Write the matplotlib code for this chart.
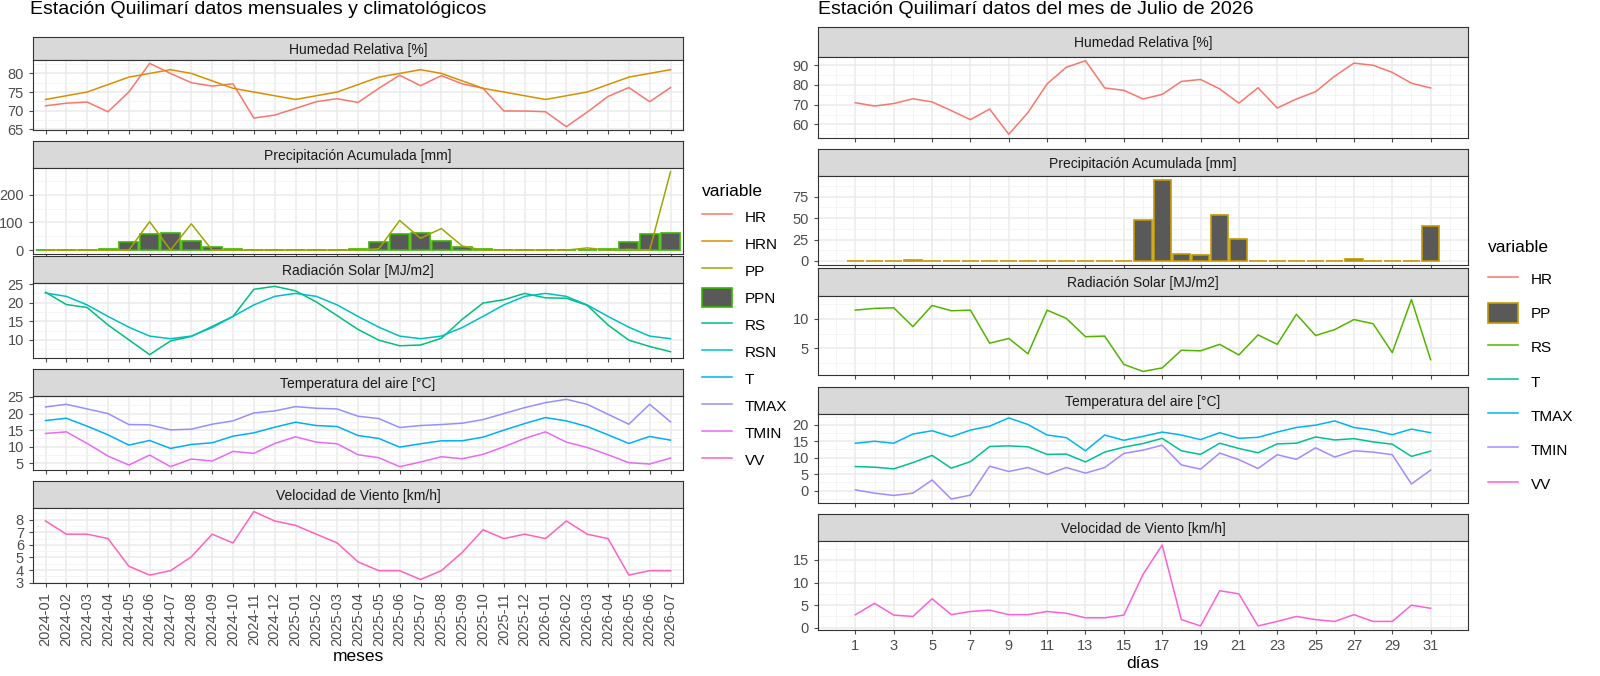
import matplotlib
matplotlib.use('Agg')
import matplotlib.pyplot as plt
from matplotlib.lines import Line2D
from matplotlib.patches import Patch
from matplotlib.ticker import MultipleLocator, AutoMinorLocator

plt.rcParams['font.family'] = ['Liberation Sans', 'DejaVu Sans']

# ---- monthly data (left) ----
meses = ['2024-%02d' % m for m in range(1, 13)] + ['2025-%02d' % m for m in range(1, 13)] + \
        ['2026-%02d' % m for m in range(1, 8)]
HR = [71.3, 72, 72.3, 69.7, 75, 82.7, 80, 77.5, 76.6, 77.2, 68, 68.8, 70.6, 72.4, 73.2, 72.2,
      76, 79.5, 76.7, 79.4, 77.2, 76, 69.9, 69.9, 69.7, 65.7, 69.6, 73.8, 76.2, 72.4, 76.2]
HRN = [73, 74, 75, 77, 79, 80, 81, 80, 78, 76, 75, 74, 73, 74, 75, 77, 79, 80, 81, 80, 78, 76,
       75, 74, 73, 74, 75, 77, 79, 80, 81]
PP = [0, 0, 0, 0, 0, 103, 0, 95, 0, 0, 0, 0, 0, 0, 0, 0, 5, 107, 43, 78, 15, 0, 0, 0, 0, 0, 8,
      0, 3, 0, 283]
PPN = [0, 1, 2, 5, 30, 57, 62, 34, 13, 4, 1, 1, 0, 0, 1, 5, 30, 57, 62, 34, 13, 4, 1, 1, 0, 0,
       2, 5, 30, 57, 62]
RS = [22.8, 19.5, 18.7, 14, 10, 6, 9.7, 10.9, 13.6, 16.3, 23.6, 24.4, 23.2, 20.2, 16.5, 12.8,
      9.9, 8.4, 8.6, 10.4, 15.5, 19.9, 20.8, 22.5, 21.3, 21.2, 19.3, 14, 9.9, 8.2, 6.8]
RSN = [22.6, 21.7, 19.4, 16.3, 13.4, 11, 10.3, 11, 13.3, 16.3, 19.4, 21.7, 22.5, 21.7, 19.4,
       16.3, 13.4, 11, 10.3, 11, 13.3, 16.3, 19.4, 21.7, 22.5, 21.7, 19.4, 16.3, 13.4, 11, 10.3]
TMAX = [22, 22.8, 21.4, 20, 16.7, 16.6, 15.1, 15.3, 16.8, 17.8, 20.2, 20.8, 22.1, 21.6, 21.4,
        19.2, 18.5, 15.8, 16.4, 16.7, 17.1, 18.2, 20, 21.8, 23.3, 24.3, 22.8, 19.8, 16.8, 22.8, 17.5]
T = [17.9, 18.6, 16.2, 13.6, 10.5, 11.9, 9.5, 10.7, 11.2, 13.2, 14.2, 15.9, 17.4, 16.4, 16.1,
     13.4, 12.5, 9.9, 10.9, 11.8, 11.8, 12.9, 15, 17, 18.8, 17.8, 16.1, 13.6, 11, 13.1, 12]
TMIN = [14, 14.5, 11, 7.2, 4.5, 7.5, 4, 6.3, 5.7, 8.6, 8, 11, 13, 11.4, 10.9, 7.6, 6.7, 4, 5.4,
        7, 6.4, 7.7, 10, 12.5, 14.5, 11.4, 9.8, 7.6, 5.2, 4.8, 6.6]
VV = [7.9, 6.85, 6.85, 6.5, 4.3, 3.6, 3.95, 5.05, 6.85, 6.15, 8.65, 7.9, 7.55, 6.85, 6.15, 4.65,
      3.95, 3.95, 3.25, 3.95, 5.4, 7.2, 6.5, 6.85, 6.5, 7.9, 6.85, 6.5, 3.6, 3.95, 3.95]

# ---- daily data (right) ----
dias = list(range(1, 32))
HRd = [71, 69.3, 70.6, 73, 71.4, 67, 62.4, 67.8, 55, 66, 80.6, 89, 92.3, 78.5, 77.3, 72.9, 75.2,
       81.8, 82.8, 78, 70.8, 78.6, 68.3, 72.9, 76.6, 84.5, 91.1, 90, 86.4, 80.9, 78.5]
PPd = [0, 0, 0, 0.6, 0.4, 0, 0, 0, 0, 0, 0, 0, 0, 0, 0, 48, 94, 8, 7, 53, 26, 0, 0, 0, 0, 0, 2.5,
       0, 0, 0, 41]
RSd = [11.5, 11.8, 11.9, 8.7, 12.3, 11.4, 11.5, 5.9, 6.7, 4.1, 11.5, 10.1, 7, 7.1, 2.3, 1.1,
       1.7, 4.7, 4.6, 5.7, 3.9, 7.3, 5.7, 10.8, 7.2, 8.2, 9.9, 9.2, 4.3, 13.3, 3.1]
TMAXd = [14.4, 15, 14.4, 17.2, 18.2, 16.4, 18.4, 19.6, 22.1, 20.1, 16.9, 16.1, 12.1, 16.9, 15.3,
         16.5, 17.8, 16.9, 15.5, 17.6, 15.9, 16.2, 17.8, 19.2, 19.9, 21.2, 19.2, 18.4, 17, 18.7, 17.6]
Td = [7.3, 7.1, 6.6, 8.5, 10.7, 6.8, 8.8, 13.4, 13.6, 13.3, 11, 11.1, 8.7, 11.7, 13.2, 14.3,
      15.9, 12.1, 11, 14.4, 12.8, 11.5, 14.2, 14.4, 16.3, 15.4, 15.8, 14.8, 14.1, 10.4, 12]
TMINd = [0.2, -0.8, -1.5, -0.8, 3.2, -2.6, -1.4, 7.4, 5.8, 7, 4.9, 7, 5.3, 7, 11.3, 12.3, 13.8,
         7.8, 6.5, 11.4, 9.4, 6.7, 10.9, 9.5, 13, 10.2, 12.1, 11.7, 10.9, 2, 6.2]
VVd = [2.9, 5.4, 2.8, 2.5, 6.4, 2.9, 3.6, 3.9, 2.9, 2.9, 3.6, 3.2, 2.2, 2.2, 2.8, 11.8, 18.3,
       1.8, 0.4, 8.2, 7.5, 0.4, 1.4, 2.5, 1.8, 1.4, 2.9, 1.4, 1.4, 5, 4.3]

# ggplot hue colours
C10 = {'HR': '#F8766D', 'HRN': '#D89000', 'PP': '#A3A500', 'PPN': '#39B600', 'RS': '#00BF7D',
       'RSN': '#00BFC4', 'T': '#00B0F6', 'TMAX': '#9590FF', 'TMIN': '#E76BF3', 'VV': '#FF62BC'}
C7 = {'HR': '#F8766D', 'PP': '#C49A00', 'RS': '#53B400', 'T': '#00C094', 'TMAX': '#00B6EB',
      'TMIN': '#A58AFF', 'VV': '#FB61D7'}

W, H = 1600, 676
fig = plt.figure(figsize=(16, 6.76), dpi=100)


def panel(x0, x1, ts, tp, bp, title):
    # strip
    sa = fig.add_axes([x0 / W, 1 - tp / H, (x1 - x0) / W, (tp - ts) / H])
    sa.set_xticks([]); sa.set_yticks([])
    sa.set_facecolor('#D9D9D9')
    for s in sa.spines.values():
        s.set_color('#333333'); s.set_linewidth(0.8)
    sa.text(0.5, 0.45, title, ha='center', va='center', fontsize=10, color='#1A1A1A',
            transform=sa.transAxes)
    ax = fig.add_axes([x0 / W, 1 - bp / H, (x1 - x0) / W, (bp - tp) / H])
    for s in ax.spines.values():
        s.set_color('#333333'); s.set_linewidth(0.8)
    ax.grid(True, which='major', color='#EBEBEB', lw=1.1, zorder=0)
    ax.grid(True, which='minor', color='#F3F3F3', lw=0.6, zorder=0)
    ax.set_axisbelow(True)
    ax.tick_params(labelsize=10.5, colors='#4D4D4D', length=3, width=0.8)
    ax.tick_params(which='minor', length=0)
    return ax


lw = 1.1
# ---- left ----
xl = list(range(len(meses)))
LX0, LX1 = 33, 683
Lrows = [(37, 60, 130), (141, 168, 254), (256, 283, 358), (369, 396, 470), (481, 508, 583)]
Ltitles = ['Humedad Relativa [%]', 'Precipitación Acumulada [mm]', 'Radiación Solar [MJ/m2]',
           'Temperatura del aire [°C]', 'Velocidad de Viento [km/h]']
laxes = [panel(LX0, LX1, *r, t) for r, t in zip(Lrows, Ltitles)]
a = laxes[0]
a.plot(xl, HR, color=C10['HR'], lw=lw); a.plot(xl, HRN, color=C10['HRN'], lw=lw)
a.set_yticks([65, 70, 75, 80]); a.set_ylim(64.8, 83.6)
a = laxes[1]
a.bar(xl, PPN, width=0.9, color='#595959', edgecolor=C10['PPN'], lw=1.2, zorder=2)
a.plot(xl, PP, color=C10['PP'], lw=lw, zorder=3)
a.set_yticks([0, 100, 200]); a.set_ylim(-14, 297)
a = laxes[2]
a.plot(xl, RS, color=C10['RS'], lw=lw); a.plot(xl, RSN, color=C10['RSN'], lw=lw)
a.set_yticks([10, 15, 20, 25]); a.set_ylim(5.1, 25.3)
a = laxes[3]
a.plot(xl, T, color=C10['T'], lw=lw); a.plot(xl, TMAX, color=C10['TMAX'], lw=lw)
a.plot(xl, TMIN, color=C10['TMIN'], lw=lw)
a.set_yticks([5, 10, 15, 20, 25]); a.set_ylim(3.0, 25.3)
a = laxes[4]
a.plot(xl, VV, color=C10['VV'], lw=lw)
a.set_yticks([3, 4, 5, 6, 7, 8]); a.set_ylim(2.97, 8.93)
for a in laxes:
    a.set_xlim(-0.6, len(meses) - 0.4)
    a.set_xticks(xl)
    a.yaxis.set_minor_locator(AutoMinorLocator(2))
    a.set_xticklabels([])
laxes[4].set_xticklabels(meses, rotation=90, fontsize=10.5)
laxes[4].set_xlabel('meses', fontsize=12.5, labelpad=2)
fig.text(30 / W, 1 - 10 / H, 'Estación Quilimarí datos mensuales y climatológicos',
         fontsize=14, va='center', ha='left')

lh = []
for k in ['HR', 'HRN', 'PP', 'PPN', 'RS', 'RSN', 'T', 'TMAX', 'TMIN', 'VV']:
    if k == 'PPN':
        lh.append(Patch(facecolor='#595959', edgecolor=C10[k], lw=1.2, label=k))
    else:
        lh.append(Line2D([], [], color=C10[k], lw=lw, label=k))
fig.legend(handles=lh, loc='upper left', bbox_to_anchor=(688 / W, 1 - 170 / H),
           title='variable', frameon=False, fontsize=11, title_fontsize=12.5,
           labelspacing=0.55, handlelength=2.0, handleheight=1.5, alignment='left')

# ---- right ----
RX0, RX1 = 818, 1468
Rrows = [(27, 57, 138), (149, 176, 265), (268, 296, 375), (387, 414, 503), (514, 541, 630)]
raxes = [panel(RX0, RX1, *r, t) for r, t in zip(Rrows, Ltitles)]
a = raxes[0]
a.plot(dias, HRd, color=C7['HR'], lw=lw)
a.set_yticks([60, 70, 80, 90]); a.set_ylim(53.1, 94.2)
a = raxes[1]
a.bar(dias, PPd, width=0.9, color='#595959', edgecolor=C7['PP'], lw=1.2, zorder=2)
a.set_yticks([0, 25, 50, 75]); a.set_ylim(-4.7, 99)
a = raxes[2]
a.plot(dias, RSd, color=C7['RS'], lw=lw)
a.set_yticks([5, 10]); a.set_ylim(0.5, 13.9)
a = raxes[3]
a.plot(dias, Td, color=C7['T'], lw=lw); a.plot(dias, TMAXd, color=C7['TMAX'], lw=lw)
a.plot(dias, TMINd, color=C7['TMIN'], lw=lw)
a.set_yticks([0, 5, 10, 15, 20]); a.set_ylim(-3.8, 23.3)
a = raxes[4]
a.plot(dias, VVd, color=C7['VV'], lw=lw)
a.set_yticks([0, 5, 10, 15]); a.set_ylim(-0.5, 19.2)
for a in raxes:
    a.set_xlim(-0.95, 32.95)
    a.set_xticks(list(range(1, 32, 2)))
    a.xaxis.set_minor_locator(MultipleLocator(1))
    a.yaxis.set_minor_locator(AutoMinorLocator(2))
    a.set_xticklabels([])
raxes[4].set_xticklabels([str(d) for d in range(1, 32, 2)])
raxes[4].set_xlabel('días', fontsize=12.5, labelpad=2)
fig.text(818 / W, 1 - 10 / H, 'Estación Quilimarí datos del mes de Julio de 2026',
         fontsize=14, va='center', ha='left')

rh = []
for k in ['HR', 'PP', 'RS', 'T', 'TMAX', 'TMIN', 'VV']:
    if k == 'PP':
        rh.append(Patch(facecolor='#595959', edgecolor=C7[k], lw=1.2, label=k))
    else:
        rh.append(Line2D([], [], color=C7[k], lw=lw, label=k))
fig.legend(handles=rh, loc='upper left', bbox_to_anchor=(1474 / W, 1 - 226 / H),
           title='variable', frameon=False, fontsize=11, title_fontsize=12.5,
           labelspacing=0.95, handlelength=2.0, handleheight=1.6, alignment='left')

fig.savefig('out.png', dpi=100)
